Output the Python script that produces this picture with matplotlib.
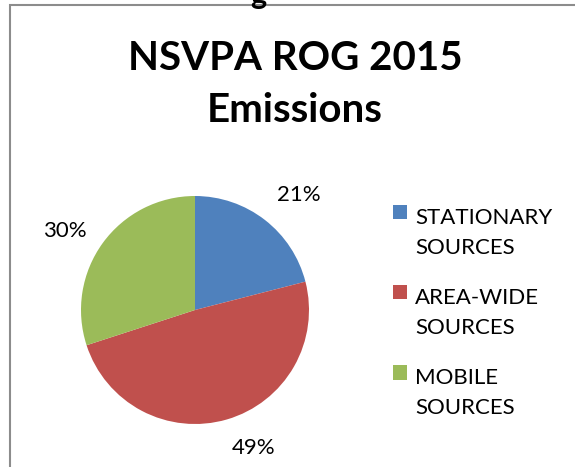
import matplotlib
matplotlib.use("Agg")
import numpy as np
import matplotlib.pyplot as plt
from matplotlib.patches import Rectangle
from matplotlib.legend_handler import HandlerPatch

categories = ["STATIONARY\nSOURCES", "AREA-WIDE\nSOURCES", "MOBILE\nSOURCES"]
values = [21, 49, 30]
colors = ["#4F81BD", "#C0504D", "#9BBB59"]
title = "NSVPA ROG 2015\nEmissions"

W, H = 575, 467
fig = plt.figure(figsize=(W / 100, H / 100), dpi=100)
plt.rcParams['font.family'] = ['Lato', 'DejaVu Sans']

# border of the chart area (extends beyond the crop)
fig.patches.append(Rectangle((10 / W, -0.1), 1.2, (H - 5) / H + 0.1, transform=fig.transFigure,
                             fill=False, edgecolor="#8c8c8c", linewidth=1.5))
# cut-off text at top
fig.text(258 / W, 1 - 4 / H, "g", ha="center", va="baseline", fontsize=22, fontweight="bold")

cx, cy, r = 195, 310, 114
ax = fig.add_axes([(cx - r) / W, (H - cy - r) / H, 2 * r / W, 2 * r / H])
wedges, _ = ax.pie(values, colors=colors, startangle=90, counterclock=False)
ax.set_xlim(-1, 1)
ax.set_ylim(-1, 1)
ax.set_aspect("equal")

# outside-end data labels
dists = [1.17, 1.17, 1.18]
for w, v, d in zip(wedges, values, dists):
    th = np.deg2rad((w.theta1 + w.theta2) / 2)
    c, s = np.cos(th), np.sin(th)
    ha = "left" if c >= 0 else "right"
    va = "bottom" if s > 0.7 else ("top" if s < -0.7 else "center")
    ax.text(d * c, d * s, f"{v}%", ha=ha, va=va, fontsize=16, clip_on=False)

fig.text(295 / W, 1 - 84 / H, title, ha="center", va="center", fontsize=29, fontweight="bold",
         linespacing=1.5)


def square(legend, orig_handle, xdescent, ydescent, width, height, fontsize):
    size = 0.64 * fontsize
    return Rectangle((-xdescent, -ydescent + 0.95 * fontsize), size, size)


fs = 16
leg = fig.legend(wedges, categories, loc="upper left", bbox_to_anchor=(384 / W, 1 - 199 / H),
                 frameon=False, fontsize=fs, handlelength=0.64, handleheight=0.64,
                 handletextpad=0.35, labelspacing=1.36, borderaxespad=0,
                 handler_map={w: HandlerPatch(patch_func=square) for w in wedges})
for t in leg.get_texts():
    t.set_linespacing(1.62)

fig.savefig("out.png", dpi=100)
